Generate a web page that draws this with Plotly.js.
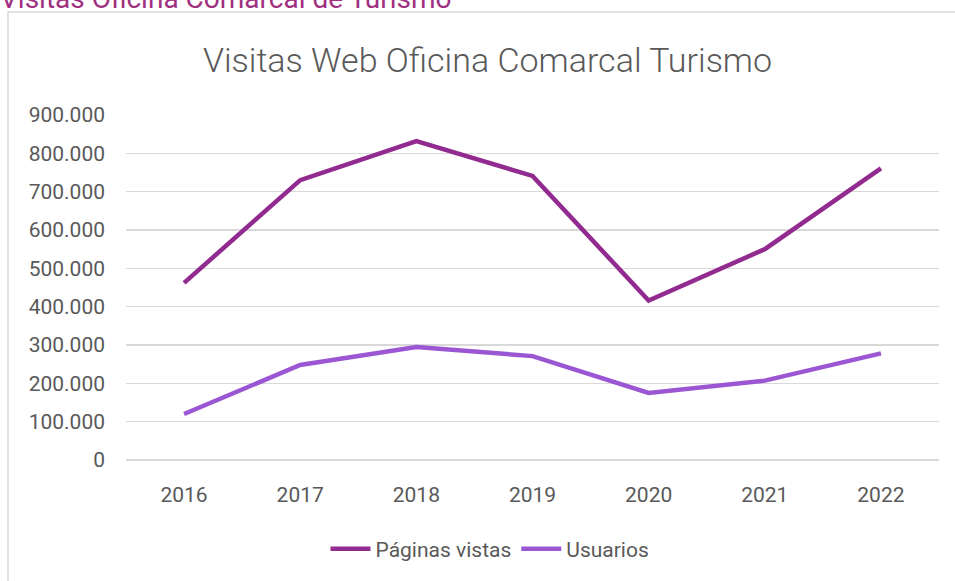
<!DOCTYPE html>
<html>
<head>
<meta charset="utf-8">
<script src="https://cdn.plot.ly/plotly-3.0.1.min.js"></script>
<style>html,body{margin:0;padding:0;background:#fff;}#chart{width:955px;height:581px;}</style>
</head>
<body>
<div id="chart"></div>
<script>
const years = ['2016','2017','2018','2019','2020','2021','2022'];
const paginasVistas = [462000, 730000, 832000, 741000, 416000, 550000, 761000];
const usuarios = [120000, 248000, 295000, 271000, 175000, 207000, 278000];
const yTickVals = [0,100000,200000,300000,400000,500000,600000,700000,800000,900000];
const yTickText = ['0','100.000','200.000','300.000','400.000','500.000','600.000','700.000','800.000','900.000'];
const seriesNames = ['Páginas vistas','Usuarios'];
const chartTitle = 'Visitas Web Oficina Comarcal Turismo';
const topText = 'Visitas Oficina Comarcal de Turismo';

const FONT = 'Roboto, "Open Sans", sans-serif';
const GREY = '#595959';
const L = 126, R = 16, T = 115, B = 121;
const PW = 955 - L - R, PH = 581 - T - B;
const px = v => (v - L) / PW;
const py = v => (581 - B - v) / PH;

const traces = [
  {x: years, y: paginasVistas, name: seriesNames[0], type: 'scatter', mode: 'lines',
   line: {color: '#922B8F', width: 4.5}},
  {x: years, y: usuarios, name: seriesNames[1], type: 'scatter', mode: 'lines',
   line: {color: '#9B57D3', width: 4.5}}
];

const layout = {
  width: 955, height: 581,
  margin: {l: L, r: R, t: T, b: B},
  paper_bgcolor: '#fff', plot_bgcolor: '#fff',
  font: {family: FONT, color: GREY, size: 21},
  title: {text: chartTitle, font: {family: FONT, size: 34, color: GREY, weight: 300},
          x: 487.5/955, xref: 'container', xanchor: 'center',
          y: 1 - 60/581, yref: 'container', yanchor: 'middle'},
  xaxis: {type: 'category', showgrid: false, zeroline: false, showline: false,
          ticks: '', ticklabelstandoff: 20, tickfont: {size: 21, color: GREY},
          range: [-0.5, 6.5], fixedrange: true},
  yaxis: {range: [0, 900000], tickvals: yTickVals, ticktext: yTickText,
          showgrid: true, gridcolor: '#D9D9D9', gridwidth: 1.5,
          zeroline: true, zerolinecolor: '#D9D9D9', zerolinewidth: 1.5,
          showline: false, ticks: '', ticklabelstandoff: 20,
          tickfont: {size: 21, color: GREY}, fixedrange: true},
  showlegend: true,
  legend: {orientation: 'h', x: px(490), xanchor: 'center', y: py(549), yanchor: 'middle',
           font: {size: 21, color: GREY}, itemwidth: 40, tracegroupgap: 0},
  shapes: [
    {type: 'rect', xref: 'paper', yref: 'paper', x0: px(8), x1: px(980), y0: py(12), y1: py(620),
     line: {color: '#D9D9D9', width: 1.5}, fillcolor: 'rgba(0,0,0,0)', layer: 'below'}
  ],
  annotations: [
    {text: topText, xref: 'paper', yref: 'paper', x: px(-2), xanchor: 'left',
     y: py(17), yanchor: 'bottom', showarrow: false,
     font: {family: FONT, size: 28, color: '#A0307F'}}
  ]
};

Plotly.newPlot('chart', traces, layout, {displayModeBar: false, staticPlot: true});
</script>
</body>
</html>
